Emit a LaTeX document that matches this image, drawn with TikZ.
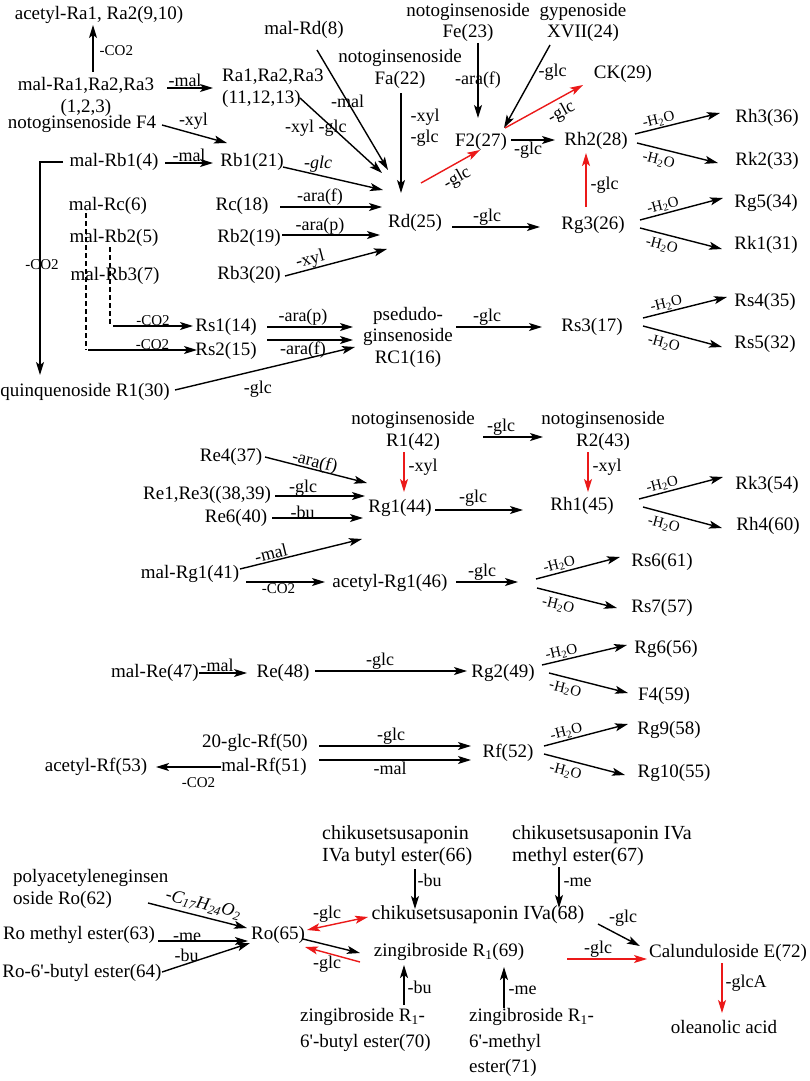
\documentclass[tikz,border=0pt]{standalone}
\usepackage{fontspec}
\setmainfont{Liberation Serif}
\usetikzlibrary{arrows.meta}
\definecolor{myred}{RGB}{235,25,25}
\begin{document}
\begin{tikzpicture}[x=1pt,y=-1pt,
 >={Stealth[length=13pt,width=8pt,inset=3pt]},
 nd/.style={inner sep=0pt,font=\fontsize{19}{22}\selectfont,align=center},
 ndb/.style={inner sep=0pt,font=\fontsize{20}{22}\selectfont,align=center},
 lb/.style={inner sep=1pt,font=\fontsize{18}{20}\selectfont},
 sl/.style={inner sep=1pt,font=\fontsize{15}{17}\selectfont},
 ar/.style={line width=1.4pt,->},
 rar/.style={ar,draw=myred},
 dsh/.style={line width=1.1pt,dash pattern=on 5pt off 3pt}]
\fill[white] (0,0) rectangle (809,1081);
\useasboundingbox (0,0) rectangle (809,1081);

% ---------- top block nodes ----------
\node[nd] (acR) at (99,15) {acetyl-Ra1, Ra2(9,10)};
\node[nd] (malRa) at (86,97) {mal-Ra1,Ra2,Ra3\\(1,2,3)};
\node[nd,align=left,anchor=west] (Ra) at (222,88) {Ra1,Ra2,Ra3\\(11,12,13)};
\node[nd] (F4) at (82,124) {notoginsenoside F4};
\node[nd] (malRb1) at (114,162) {mal-Rb1(4)};
\node[nd] (Rb1) at (252,162) {Rb1(21)};
\node[nd] (malRd) at (304,30) {mal-Rd(8)};
\node[nd] (Fa) at (400,69) {notoginsenoside\\Fa(22)};
\node[nd,font=\fontsize{19}{21}\selectfont] (Fe) at (468,22) {notoginsenoside\\Fe(23)};
\node[nd,font=\fontsize{19}{21}\selectfont] (Gy) at (583,22) {gypenoside\\XVII(24)};
\node[nd] (F2) at (481,142) {F2(27)};
\node[nd] (CK) at (623,74) {CK(29)};
\node[nd] (Rh2) at (596,141) {Rh2(28)};
\node[nd] (Rh3) at (767,118) {Rh3(36)};
\node[nd] (Rk2) at (767,161) {Rk2(33)};
\node[nd] (malRc) at (108,206) {mal-Rc(6)};
\node[nd] (Rc) at (242,206) {Rc(18)};
\node[nd] (malRb2) at (114,238) {mal-Rb2(5)};
\node[nd] (Rb2) at (249,238) {Rb2(19)};
\node[nd] (malRb3) at (115,276) {mal-Rb3(7)};
\node[nd] (Rb3) at (249,275) {Rb3(20)};
\node[nd] (Rd) at (415,223) {Rd(25)};
\node[nd] (Rg3) at (593,225) {Rg3(26)};
\node[nd] (Rg5) at (766,203) {Rg5(34)};
\node[nd] (Rk1) at (766,245) {Rk1(31)};
\node[nd] (Rs1) at (226,327) {Rs1(14)};
\node[nd] (Rs2) at (226,351) {Rs2(15)};
\node[nd,font=\fontsize{19}{21.5}\selectfont] (pseudo) at (408,337) {psedudo-\\ginsenoside\\RC1(16)};
\node[nd] (Rs3) at (592,327) {Rs3(17)};
\node[nd] (Rs4) at (765,302) {Rs4(35)};
\node[nd] (Rs5) at (765,344) {Rs5(32)};
\node[nd] (quin) at (85,392) {quinquenoside R1(30)};

% ---------- middle block nodes ----------
\node[nd] (R1) at (413,431) {notoginsenoside\\R1(42)};
\node[nd] (R2) at (603,431) {notoginsenoside\\R2(43)};
\node[nd] (Re4) at (231,457) {Re4(37)};
\node[nd] (Re13) at (207,495) {Re1,Re3((38,39)};
\node[nd] (Re6) at (236,518) {Re6(40)};
\node[nd] (Rg1) at (400,508) {Rg1(44)};
\node[nd] (Rh1) at (582,506) {Rh1(45)};
\node[nd] (Rk3) at (767,485) {Rk3(54)};
\node[nd] (Rh4) at (768,526) {Rh4(60)};
\node[nd] (malRg1) at (190,574) {mal-Rg1(41)};
\node[nd] (acRg1) at (390,583) {acetyl-Rg1(46)};
\node[nd] (Rs6) at (662,562) {Rs6(61)};
\node[nd] (Rs7) at (662,608) {Rs7(57)};
\node[nd] (malRe) at (155,673) {mal-Re(47)};
\node[nd] (Re) at (283,673) {Re(48)};
\node[nd] (Rg2) at (503,673) {Rg2(49)};
\node[nd] (Rg6) at (666,649) {Rg6(56)};
\node[nd] (F4b) at (664,696) {F4(59)};
\node[nd] (glcRf) at (255,743) {20-glc-Rf(50)};
\node[nd] (malRf) at (264,767) {mal-Rf(51)};
\node[nd] (acRf) at (96,767) {acetyl-Rf(53)};
\node[nd] (Rf) at (508,753) {Rf(52)};
\node[nd] (Rg9) at (669,730) {Rg9(58)};
\node[nd] (Rg10) at (674,773) {Rg10(55)};

% ---------- bottom block nodes ----------
\node[nd,align=left,anchor=west] (Ro62) at (13,888.5) {polyacetyleneginsen\\oside Ro(62)};
\node[nd] (Ro63) at (79,935) {Ro methyl ester(63)};
\node[nd] (Ro64) at (82,973) {Ro-6\textquotesingle-butyl ester(64)};
\node[nd] (Ro65) at (278,935) {Ro(65)};
\node[ndb,align=left,anchor=west] (chik66) at (322,846) {chikusetsusaponin\\IVa butyl ester(66)};
\node[ndb,align=left,anchor=west] (chik67) at (512,846) {chikusetsusaponin IVa\\methyl ester(67)};
\node[ndb] (IVa68) at (478,915) {chikusetsusaponin IVa(68)};
\node[nd] (zR69) at (449,952) {zingibroside R\textsubscript{1}(69)};
\node[nd,align=left,anchor=west,font=\fontsize{19}{26}\selectfont] (z70) at (300,1030) {zingibroside R\textsubscript{1}-\\6\textquotesingle-butyl ester(70)};
\node[nd,align=left,anchor=west,font=\fontsize{19}{25.5}\selectfont] (z71) at (469,1042.5) {zingibroside R\textsubscript{1}-\\6\textquotesingle-methyl\\ester(71)};
\node[nd] (Cal72) at (728,953) {Calunduloside E(72)};
\node[nd] (olea) at (724,1027) {oleanolic acid};

% ---------- top block connectors ----------
\draw[ar] ([shift={(7,-25)}]malRa.center) -- node[sl,pos=.45,right=5pt]{-CO2} ([shift={(-6,10)}]acR.center);
\draw[ar] ([shift={(81,-9)}]malRa.center) -- node[lb,midway,above,xshift=-5pt]{-mal} ([shift={(-9,0)}]Ra.west);
\draw[ar] ([shift={(80,1)}]F4.center) -- node[lb,midway,above=3pt,xshift=-1pt]{-xyl} ([shift={(-25,-19)}]Rb1.center);
\draw[ar] ([shift={(51,1)}]malRb1.center) -- node[lb,midway,above]{-mal} ([shift={(-39,1)}]Rb1.center);
\draw[ar] ([shift={(-51,0)}]malRb1.center) -- ([shift={(-74,0)}]malRb1.center) -- node[sl,pos=.48,xshift=2pt]{-CO2} ([shift={(-45,-17)}]quin.center);
\draw[ar] ([shift={(13,20)}]malRd.center) -- node[lb,pos=.43]{-mal} ([shift={(-27,-53)}]Rd.center);
\draw[ar] ([shift={(78,10)}]Ra.west) -- node[lb,pos=.4,xshift=-17pt]{-xyl -glc} ([shift={(-33,-50)}]Rd.center);
\draw[ar] ([shift={(31,5)}]Rb1.center) -- node[lb,pos=.35,above=1pt]{\textit{-glc}} ([shift={(-32,-33)}]Rd.center);
\draw[ar] ([shift={(1,24)}]Fa.center) -- node[lb,pos=.345,right=8pt,align=left,font=\fontsize{18}{21}\selectfont]{-xyl\\-glc} ([shift={(-14,-30)}]Rd.center);
\draw[ar] ([shift={(38,1)}]Rc.center) -- node[lb,midway,above,xshift=-11pt]{-ara(f)} ([shift={(-33,-16)}]Rd.center);
\draw[ar] ([shift={(33,-3)}]Rb2.center) -- node[lb,midway,above=-1pt,xshift=-11pt]{-ara(p)} ([shift={(-35,12)}]Rd.center);
\draw[ar] ([shift={(36,1)}]Rb3.center) -- node[lb,pos=.27,sloped,above=-1pt]{-xyl} ([shift={(-28,26)}]Rd.center);
\draw[rar] ([shift={(6,-40)}]Rd.center) -- node[lb,midway,sloped,below=4pt]{-glc} ([shift={(-1,8)}]F2.center);
\draw[ar] ([shift={(10,21)}]Fe.center) -- node[lb,pos=.49]{-ara(f)} ([shift={(-3,-24)}]F2.center);
\draw[ar] ([shift={(-33,23)}]Gy.center) -- node[lb,pos=.33,right=2pt]{-glc} ([shift={(23,-14)}]F2.center);
\draw[rar] ([shift={(24,-14)}]F2.center) -- node[lb,pos=.64,sloped,below=4pt]{-glc} ([shift={(-40,11)}]CK.center);
\draw[ar] ([shift={(30,-2)}]F2.center) -- node[lb,midway,below,xshift=-5pt]{-glc} ([shift={(-41,-1)}]Rh2.center);
\draw[rar] ([shift={(-7,-18)}]Rg3.center) -- node[lb,pos=.41,right=3pt]{-glc} ([shift={(-10,12)}]Rh2.center);
\draw[ar] ([shift={(39,-7)}]Rh2.center) -- node[sl,pos=.3,sloped,above=0pt]{-H\textsubscript{2}O} ([shift={(-47,-5)}]Rh3.center);
\draw[ar] ([shift={(41,2)}]Rh2.center) -- node[sl,pos=.3,sloped,below=4pt]{-H\textsubscript{2}O} ([shift={(-49,2)}]Rk2.center);
\draw[ar] ([shift={(37,4)}]Rd.center) -- node[lb,midway,above,xshift=-9pt]{-glc} ([shift={(-53,2)}]Rg3.center);
\draw[ar] ([shift={(47,-5)}]Rg3.center) -- node[sl,pos=.3,sloped,above=0pt]{-H\textsubscript{2}O} ([shift={(-43,-5)}]Rg5.center);
\draw[ar] ([shift={(47,3)}]Rg3.center) -- node[sl,pos=.3,sloped,below=4pt]{-H\textsubscript{2}O} ([shift={(-44,4)}]Rk1.center);
\draw[dsh] ([shift={(-22,7)}]malRc.center) -- ([shift={(-140,-1)}]Rs2.center);
\draw[ar] ([shift={(-138,-1)}]Rs2.center) -- node[sl,midway,above=-1pt,xshift=10pt]{-CO2} ([shift={(-29,-1)}]Rs2.center);
\draw[dsh] ([shift={(-4,9)}]malRb2.center) -- ([shift={(-116,-1)}]Rs1.center);
\draw[ar] ([shift={(-113,-1)}]Rs1.center) -- node[sl,midway,above=-1pt]{-CO2} ([shift={(-33,-1)}]Rs1.center);
\draw[ar] ([shift={(41,0)}]Rs1.center) -- node[lb,midway,above,xshift=-7pt]{-ara(p)} ([shift={(-55,-10)}]pseudo.center);
\draw[ar] ([shift={(41,-11)}]Rs2.center) -- node[lb,midway,below,xshift=-7pt]{-ara(f)} ([shift={(-55,3)}]pseudo.center);
\draw[ar] ([shift={(90,-2)}]quin.center) -- node[lb,pos=.46,below=9pt]{-glc} ([shift={(-53,10)}]pseudo.center);
\draw[ar] ([shift={(48,-10)}]pseudo.center) -- node[lb,midway,above,xshift=-12pt]{-glc} ([shift={(-50,0)}]Rs3.center);
\draw[ar] ([shift={(51,-9)}]Rs3.center) -- node[sl,pos=.3,sloped,above=0pt]{-H\textsubscript{2}O} ([shift={(-38,-5)}]Rs4.center);
\draw[ar] ([shift={(51,-1)}]Rs3.center) -- node[sl,pos=.3,sloped,below=4pt]{-H\textsubscript{2}O} ([shift={(-43,3)}]Rs5.center);

% ---------- middle block connectors ----------
\draw[ar] ([shift={(70,6)}]R1.center) -- node[lb,midway,above,xshift=-12pt]{-glc} ([shift={(-60,6)}]R2.center);
\draw[rar] ([shift={(-9,21)}]R1.center) -- node[lb,pos=.37,right=3pt]{-xyl} ([shift={(4,-16)}]Rg1.center);
\draw[rar] ([shift={(-15,21)}]R2.center) -- node[lb,pos=.37,right=3pt]{-xyl} ([shift={(6,-14)}]Rh1.center);
\draw[ar] ([shift={(34,0)}]Re4.center) -- node[lb,pos=.47,sloped,above=-3pt]{-ara(f)} ([shift={(-33,-25)}]Rg1.center);
\draw[ar] ([shift={(68,1)}]Re13.center) -- node[lb,midway,above=-2pt,xshift=-17pt]{-glc} ([shift={(-35,-12)}]Rg1.center);
\draw[ar] ([shift={(36,0)}]Re6.center) -- node[lb,midway,above=-2pt,xshift=-15pt]{-bu} ([shift={(-37,10)}]Rg1.center);
\draw[ar] ([shift={(50,-5)}]malRg1.center) -- node[lb,pos=.27,sloped,above]{-mal} ([shift={(-38,31)}]Rg1.center);
\draw[ar] ([shift={(56,8)}]malRg1.center) -- node[sl,midway,below,xshift=-7pt]{-CO2} ([shift={(-65,-1)}]acRg1.center);
\draw[ar] ([shift={(35,2)}]Rg1.center) -- node[lb,midway,above=2pt,xshift=-6pt]{-glc} ([shift={(-59,4)}]Rh1.center);
\draw[ar] ([shift={(57,-7)}]Rh1.center) -- node[sl,pos=.3,sloped,above=0pt]{-H\textsubscript{2}O} ([shift={(-44,-8)}]Rk3.center);
\draw[ar] ([shift={(61,1)}]Rh1.center) -- node[sl,pos=.3,sloped,below=4pt]{-H\textsubscript{2}O} ([shift={(-46,2)}]Rh4.center);
\coordinate (b1) at (518,582);
\draw[ar] ([shift={(66,-1)}]acRg1.center) -- node[lb,midway,above,xshift=-5pt]{-glc} (b1);
\draw[ar] ([shift={(18,-3)}]b1) -- node[sl,pos=.3,sloped,above=0pt]{-H\textsubscript{2}O} ([shift={(-42,-5)}]Rs6.center);
\draw[ar] ([shift={(19,6)}]b1) -- node[sl,pos=.3,sloped,below=4pt]{-H\textsubscript{2}O} ([shift={(-45,0)}]Rs7.center);
\draw[ar] ([shift={(44,0)}]malRe.center) -- node[lb,midway,above=0pt,xshift=-6pt]{-mal} ([shift={(-36,0)}]Re.center);
\draw[ar] ([shift={(32,-2)}]Re.center) -- node[lb,midway,above,xshift=-11pt]{-glc} ([shift={(-36,-2)}]Rg2.center);
\draw[ar] ([shift={(39,-8)}]Rg2.center) -- node[sl,pos=.25,sloped,above=0pt]{-H\textsubscript{2}O} ([shift={(-39,-4)}]Rg6.center);
\draw[ar] ([shift={(46,0)}]Rg2.center) -- node[sl,pos=.24,sloped,below=4pt]{-H\textsubscript{2}O} ([shift={(-36,-3)}]F4b.center);
\draw[ar] ([shift={(64,3)}]glcRf.center) -- node[lb,midway,above,xshift=-4pt]{-glc} ([shift={(-37,-7)}]Rf.center);
\draw[ar] ([shift={(55,-7)}]malRf.center) -- node[lb,midway,below,xshift=-5pt]{-mal} ([shift={(-37,7)}]Rf.center);
\draw[ar] ([shift={(-43,0)}]malRf.center) -- node[sl,midway,below=9pt,xshift=10pt]{-CO2} ([shift={(60,0)}]acRf.center);
\draw[ar] ([shift={(36,-7)}]Rf.center) -- node[sl,pos=.29,sloped,above=0pt]{-H\textsubscript{2}O} ([shift={(-41,-6)}]Rg9.center);
\draw[ar] ([shift={(36,1)}]Rf.center) -- node[sl,pos=.3,sloped,below=4pt]{-H\textsubscript{2}O} ([shift={(-49,2)}]Rg10.center);

% ---------- bottom block connectors ----------
\draw[ar] ([shift={(135,14.5)}]Ro62.west) -- node[lb,pos=.53,sloped,above=3pt]{\textit{-C\textsubscript{17}H\textsubscript{24}O\textsubscript{2}}} ([shift={(-31,-7)}]Ro65.center);
\draw[ar] ([shift={(79,6)}]Ro63.center) -- node[lb,midway,above=-2pt,xshift=-16pt]{-me} ([shift={(-30,6)}]Ro65.center);
\draw[ar] ([shift={(80,-1)}]Ro64.center) -- node[lb,pos=.28,above=1pt]{-bu} ([shift={(-28,8)}]Ro65.center);
\draw[rar,<->] ([shift={(29,-5)}]Ro65.center) -- node[lb,pos=.33,above=2pt]{-glc} ([shift={(-110,2)}]IVa68.center);
\draw[ar] ([shift={(25,4)}]Ro65.center) -- ([shift={(-89,1)}]zR69.center);
\draw[rar] ([shift={(-89,10)}]zR69.center) -- node[lb,pos=.6,below=1pt]{-glc} ([shift={(27,12)}]Ro65.center);
\draw[ar] ([shift={(93,23)}]chik66.west) -- node[lb,pos=.28,right=1pt]{-bu} ([shift={(-63,-6)}]IVa68.center);
\draw[ar] ([shift={(47,21)}]chik67.west) -- node[lb,pos=.37,right=3pt]{-me} ([shift={(81,-7)}]IVa68.center);
\draw[ar] ([shift={(104,-25)}]z70.west) -- node[lb,pos=.45,right=2pt]{-bu} ([shift={(-45,13)}]zR69.center);
\draw[ar] ([shift={(35,-34.5)}]z71.west) -- node[lb,pos=.44,right=3pt]{-me} ([shift={(55,15)}]zR69.center);
\draw[ar] ([shift={(120,9)}]IVa68.center) -- node[lb,pos=.6,above=9pt]{-glc} ([shift={(-88,-7)}]Cal72.center);
\coordinate (rs) at (567,959);
\draw[rar] (rs) -- node[lb,midway,above=0pt,xshift=-9pt]{-glc} ([shift={(-81,6)}]Cal72.center);
\draw[rar] ([shift={(-6,10)}]Cal72.center) -- node[lb,pos=.4,right=2pt]{-glcA} ([shift={(-2,-14)}]olea.center);
\end{tikzpicture}
\end{document}
